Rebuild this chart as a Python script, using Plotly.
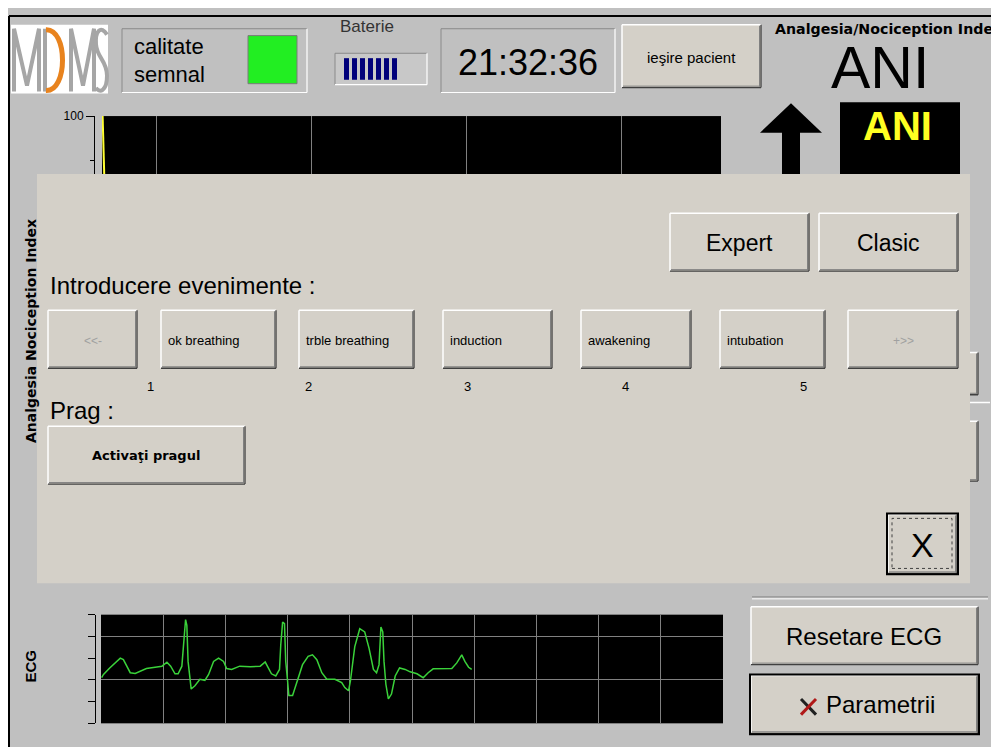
import plotly.graph_objects as go

W, H = 999, 747
OX, OY = 8, 8  # the page places the figure 8px from the window's top-left corner

# ---------------- data ----------------
# ECG trace (x in grid divisions, y in grid units)
ecg_x = [0.01, 0.04, 0.14, 0.31, 0.36, 0.47, 0.55, 0.63, 0.73, 0.87,
         0.98, 1.06, 1.12, 1.19, 1.24, 1.30, 1.33, 1.36, 1.38, 1.40,
         1.45, 1.51, 1.59, 1.67, 1.73, 1.81, 1.89, 1.97, 2.02, 2.10,
         2.23, 2.40, 2.56, 2.64, 2.69, 2.74, 2.81, 2.87, 2.89, 2.92,
         2.95, 2.97, 3.00, 3.02, 3.08, 3.15, 3.24, 3.33, 3.40, 3.47,
         3.55, 3.63, 3.76, 3.87, 3.92, 3.98, 4.01, 4.08, 4.16, 4.24,
         4.31, 4.38, 4.43, 4.47, 4.50, 4.53, 4.55, 4.58, 4.62, 4.67,
         4.73, 4.80, 4.89, 4.97, 5.08, 5.18, 5.26, 5.34, 5.50, 5.64,
         5.72, 5.80, 5.85, 5.91, 5.96]
ecg_y = [2.10, 2.25, 2.55, 3.00, 2.93, 2.33, 2.30, 2.40, 2.52, 2.58,
         2.63, 2.81, 2.63, 2.28, 2.28, 2.63, 3.90, 4.77, 4.50, 2.85,
         1.58, 1.73, 2.03, 1.98, 2.25, 2.85, 3.00, 2.85, 2.52, 2.48,
         2.63, 2.60, 2.63, 2.82, 2.55, 2.28, 2.18, 2.48, 3.60, 4.65,
         4.58, 2.85, 1.95, 1.28, 1.28, 1.95, 2.70, 3.08, 3.15, 2.93,
         2.33, 2.03, 2.03, 1.88, 1.65, 1.50, 1.95, 3.53, 4.35, 4.20,
         3.45, 2.48, 2.33, 2.70, 4.43, 4.20, 2.85, 1.80, 1.13, 1.35,
         2.18, 2.55, 2.48, 2.37, 2.28, 2.10, 2.33, 2.51, 2.52, 2.52,
         2.78, 3.15, 2.85, 2.58, 2.48]
ecg_grid_x = [0, 1, 2, 3, 4, 5, 6, 7, 8, 9, 10]
ecg_grid_y = [2, 4]
ecg_minor_y = [0, 1, 3, 5]

# ANI trend (minutes, index value)
ani_minutes = [3.25, 3.26, 3.28, 3.29, 3.31, 3.33, 3.36]
ani_values = [100, 97, 94, 90, 86, 80, 72]
ani_grid_x = [5, 10, 15, 20]
ani_ticks = [0, 50, 100]
ani_ticklabels = ["0", "50", "100"]

event_labels = ["<<-", "ok breathing", "trble breathing", "induction",
                "awakening", "intubation", "+>>"]
event_numbers = ["1", "2", "3", "4", "5"]
clock_text = "21:32:36"

# ---------------- styling helpers ----------------
BG = "#c0c0c0"
BTN = "#d4d0c8"
SANS = "Liberation Sans, Arial, sans-serif"
VERD = "DejaVu Sans, Verdana, sans-serif"


def X(px):
    return (px - OX) / W


def Y(py):
    return 1 - (py - OY) / H


shapes = []
annotations = []


def rect(x0, y0, x1, y1, fill, line=None, lw=0, dash=None):
    ln = dict(width=lw, color=line or fill)
    if dash:
        ln["dash"] = dash
    shapes.append(dict(type="rect", xref="paper", yref="paper",
                       x0=X(x0), x1=X(x1), y0=Y(y1), y1=Y(y0),
                       fillcolor=fill, line=ln, layer="above"))


def seg(x0, y0, x1, y1, color, lw=1):
    shapes.append(dict(type="line", xref="paper", yref="paper",
                       x0=X(x0), y0=Y(y0), x1=X(x1), y1=Y(y1),
                       line=dict(color=color, width=lw), layer="above"))


def pt(a, b):
    return f"{X(a):.5f},{Y(b):.5f}"


def poly(points, fill):
    d = "M" + pt(*points[0]) + "".join(" L" + pt(*p) for p in points[1:]) + " Z"
    shapes.append(dict(type="path", xref="paper", yref="paper", path=d,
                       fillcolor=fill, line=dict(width=0), layer="above"))


def polyline(points, color, lw):
    d = "M" + pt(*points[0]) + "".join(" L" + pt(*p) for p in points[1:])
    shapes.append(dict(type="path", xref="paper", yref="paper", path=d,
                       line=dict(color=color, width=lw), layer="above"))


def curve(start, segs, color, lw):
    d = "M" + pt(*start)
    for c1, c2, e in segs:
        d += " C" + pt(*c1) + " " + pt(*c2) + " " + pt(*e)
    shapes.append(dict(type="path", xref="paper", yref="paper", path=d,
                       line=dict(color=color, width=lw), layer="above"))


def text(px, py, s, size, color="#000000", family=SANS, xanchor="center",
         bold=False, angle=0):
    if bold:
        s = f"<b>{s}</b>"
    annotations.append(dict(x=X(px), y=Y(py), xref="paper", yref="paper", text=s,
                            showarrow=False, textangle=angle,
                            font=dict(size=size, color=color, family=family),
                            xanchor=xanchor, yanchor="middle"))


def button(x0, y0, x1, y1, default=False):
    rect(x0, y0, x1, y1, BTN)
    seg(x0, y0, x1, y0, "#ffffff", 1.5)
    seg(x0, y0, x0, y1, "#ffffff", 1.5)
    seg(x0 + 1, y1 - 1.5, x1 - 1, y1 - 1.5, "#808080", 1)
    seg(x1 - 1.5, y0 + 1, x1 - 1.5, y1 - 1, "#808080", 1)
    seg(x0, y1, x1, y1, "#404040", 1.3)
    seg(x1, y0, x1, y1, "#404040", 1.3)
    if default:
        rect(x0 - 1, y0 - 1, x1 + 1, y1 + 1, "rgba(0,0,0,0)", "#000000", 2)


def sunken(x0, y0, x1, y1, fill):
    rect(x0, y0, x1, y1, fill)
    seg(x0, y0, x1, y0, "#8a8a8a", 1)
    seg(x0, y0, x0, y1, "#8a8a8a", 1)
    seg(x0, y1, x1, y1, "#ffffff", 1.2)
    seg(x1, y0, x1, y1, "#ffffff", 1.2)


# ---------------- frame ----------------
seg(9, 9, W + OX, 9, "#000000", 2)
seg(9, 9, 9, H + OY, "#000000", 2)

# ---------------- top bar ----------------
# logo
rect(11, 18, 108, 88, "#ffffff")
GR = "#a6a6a6"
polyline([(14, 86), (14, 22), (27, 80), (39, 22), (39, 86)], GR, 4)
polyline([(45, 22), (45, 86)], GR, 4)
curve((46, 23), [((68, 22), (68, 86), (46, 85))], "#e8831e", 5)
polyline([(71, 86), (71, 22), (83, 80), (94, 22), (94, 86)], GR, 4)
curve((107, 28), [((101, 18), (95, 24), (96, 38)),
                  ((97, 52), (107, 54), (107, 70)),
                  ((107, 86), (99, 88), (96, 82))], GR, 4)

# signal quality box
sunken(122, 22, 307, 87, BG)
rect(248, 29, 297, 78, "#22ee22", "#7a7a7a", 1)
text(132, 40, "calitate", 22, xanchor="left")
text(132, 69, "semnal", 22, xanchor="left")

# battery
text(367, 20, "Baterie", 17, color="#333333")
sunken(335, 47, 427, 79, "#c8c8c8")
for i in range(7):
    rect(344 + i * 8, 52, 349 + i * 8, 74, "#00007a")

# clock
sunken(441, 22, 615, 87, BG)
text(528, 56, clock_text, 36)

# exit button
button(622, 18, 761, 82)
text(691, 51, "ieşire pacient", 15)

# ANI header (the reference shows the title clipped after "Inde")
text(773, 22, "Analgesia/Nociception Inde", 14.2, family=VERD, xanchor="left", bold=True)
text(880, 62, "ANI", 59)
poly([(760, 128), (791, 98), (822, 128), (800, 128), (800, 185), (782, 185), (782, 128)], "#000000")
rect(840, 97, 960, 190, "#000000")
text(897, 121, "ANI", 40, color="#ffff22", bold=True)

# buttons hidden behind the dialog on the right
button(752, 352, 978, 395)
button(752, 422, 978, 483)
seg(752, 403, 990, 403, "#ffffff", 1.5)

# ---------------- dialog ----------------
rect(37, 170, 970, 587, BTN)

button(670, 210, 809, 269)
text(739, 240, "Expert", 23)
button(819, 210, 958, 269)
text(888, 240, "Clasic", 23)

text(48, 284, "Introducere evenimente :", 24, xanchor="left")

ev_x = [(48, 137), (161, 276), (299, 414), (443, 552), (581, 691), (720, 825), (848, 958)]
for (a, b), lab in zip(ev_x, event_labels):
    button(a, 309, b, 368)
    if lab in ("<<-", "+>>"):
        text((a + b) / 2, 340, lab, 12, color="#a0a0a0")
    else:
        text(a + 5, 340, lab, 13, xanchor="left")

num_x = [150, 308, 467, 625, 803]
for nx, n in zip(num_x, event_numbers):
    text(nx, 387, n, 13)

text(48, 411, "Prag :", 24, xanchor="left")
button(48, 427, 245, 486)
text(146, 457, "Activaţi pragul", 13, family=VERD, bold=True)

button(888, 517, 957, 577, default=True)
rect(892, 521, 952, 572, "rgba(0,0,0,0)", "#404040", 1, dash="dot")
text(922, 548, "X", 34)

# ---------------- lower right ----------------
seg(752, 601, 988, 601, "#8a8a8a", 1)
seg(752, 603, 988, 603, "#ffffff", 1)
button(751, 611, 978, 670)
text(864, 641, "Resetare ECG", 24)
button(751, 681, 978, 740, default=True)
seg(801, 705, 816, 721, "#202020", 3)
seg(816, 705, 801, 721, "#b01818", 3)
text(824, 711, "Parametrii", 24, xanchor="left")

# axis titles
text(31, 330, "Analgesia Nociception Index", 14, family=VERD, bold=True, angle=-90)
text(31, 672, "ECG", 15, bold=True, angle=-90)

# ---------------- figure ----------------
fig = go.Figure()
fig.add_trace(go.Scatter(x=ani_minutes, y=ani_values, mode="lines",
                         line=dict(color="#ffff33", width=2), xaxis="x", yaxis="y",
                         hoverinfo="skip", showlegend=False))
fig.add_trace(go.Scatter(x=ecg_x, y=ecg_y, mode="lines",
                         line=dict(color="#3ad23a", width=1.5), xaxis="x2", yaxis="y2",
                         hoverinfo="skip", showlegend=False))

fig.update_layout(
    width=W, height=H, autosize=False,
    margin=dict(l=0, r=0, t=0, b=0, pad=0),
    paper_bgcolor=BG, plot_bgcolor="#000000",
    showlegend=False, hovermode=False,
    shapes=shapes, annotations=annotations,
    xaxis=dict(domain=[X(102), X(721)], range=[3.23, 23.2], anchor="y",
               tickmode="array", tickvals=ani_grid_x, showticklabels=False, ticks="",
               showgrid=True, gridcolor="#808080", gridwidth=1, zeroline=False,
               showline=False, fixedrange=True),
    yaxis=dict(domain=[Y(562), Y(111)], range=[0, 100], anchor="free", position=X(94),
               tickmode="array", tickvals=ani_ticks, ticktext=ani_ticklabels,
               ticks="outside", ticklen=8, tickcolor="#000000", tickwidth=1,
               tickfont=dict(family=SANS, size=12, color="#000000"),
               showline=True, linecolor="#000000", linewidth=1,
               showgrid=False, zeroline=False, fixedrange=True,
               minor=dict(dtick=10, tick0=0, ticks="outside", ticklen=4,
                          tickcolor="#000000", showgrid=False)),
    xaxis2=dict(domain=[X(101), X(723)], range=[0, 10], anchor="y2",
                tickmode="array", tickvals=ecg_grid_x, showticklabels=False, ticks="",
                showgrid=True, gridcolor="#808080", gridwidth=1, zeroline=False,
                showline=True, mirror=True, linecolor="#808080", linewidth=1,
                fixedrange=True),
    yaxis2=dict(domain=[Y(730), Y(619)], range=[0, 5], anchor="free", position=X(95),
                tickmode="array", tickvals=ecg_grid_y, showticklabels=False,
                ticks="outside", ticklen=7, tickcolor="#000000", tickwidth=1,
                showline=True, linecolor="#000000", linewidth=1,
                showgrid=True, gridcolor="#808080", gridwidth=1, zeroline=False,
                fixedrange=True,
                minor=dict(tickmode="array", tickvals=ecg_minor_y, ticks="outside",
                           ticklen=7, tickcolor="#000000", showgrid=False)),
)

fig.write_html("out.html", config=dict(displayModeBar=False, staticPlot=True))
